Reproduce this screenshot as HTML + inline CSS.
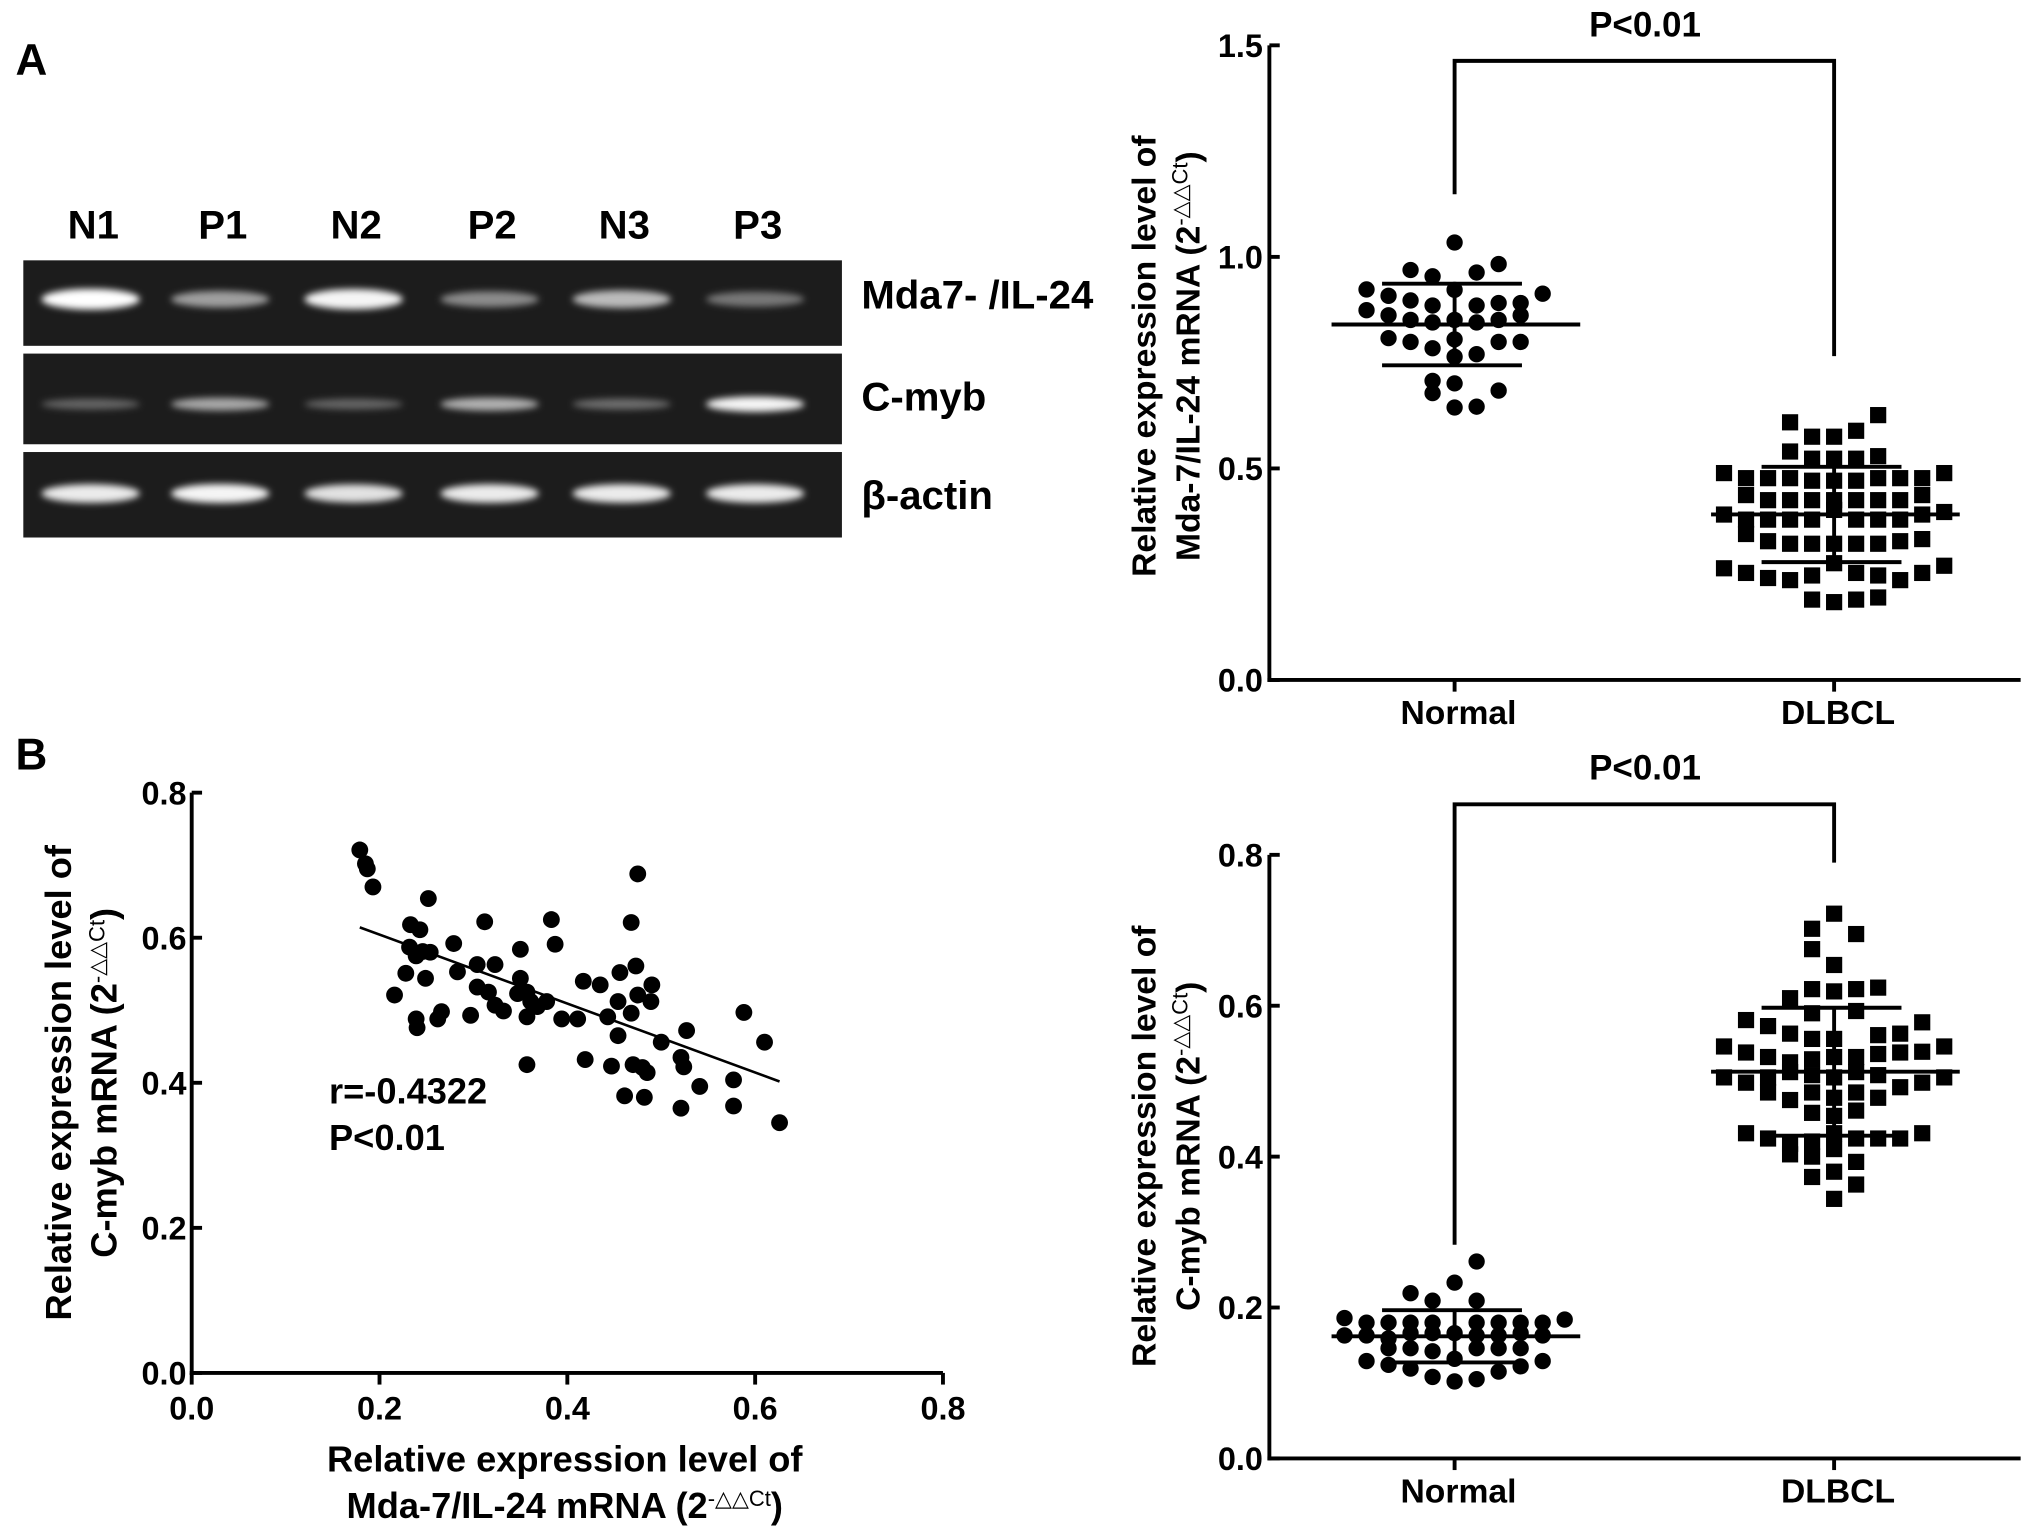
<!DOCTYPE html>
<html><head><meta charset="utf-8"><style>
html,body{margin:0;padding:0;background:#fff;}
svg{display:block;font-family:"Liberation Sans",Arial,sans-serif;font-weight:bold;}
</style></head><body>
<svg id="fig" width="2031" height="1540" viewBox="0 0 1568 1189" preserveAspectRatio="none" xmlns="http://www.w3.org/2000/svg">
<defs><filter id="blur" x="-30%" y="-100%" width="160%" height="300%"><feGaussianBlur stdDeviation="2.6"/></filter></defs>
<g id="root"></g>
</svg>
<script>
// ---------- DATA ----------
const laneLabels = ['N1','P1','N2','P2','N3','P3'];
const mdaBands = [1.0, 0.5, 0.95, 0.4, 0.65, 0.3];
const cmybBands = [0.2, 0.55, 0.2, 0.6, 0.25, 0.95];
const actinBands = [0.9, 0.95, 0.85, 0.9, 0.9, 0.9];
const gelRowLabels = ['Mda7- /IL-24','C-myb','β-actin'];

const groupNames = ['Normal','DLBCL'];
const mdaTicks = [0.0, 0.5, 1.0, 1.5];
const mdaTickLabels = ['0.0','0.5','1.0','1.5'];
const mdaNormal = [1.034,0.969,0.954,0.963,0.983,0.923,0.908,0.897,0.885,0.922,0.885,0.891,0.891,0.913,0.874,0.862,0.851,0.845,0.851,0.845,0.851,0.862,0.808,0.799,0.784,0.805,0.770,0.799,0.799,0.764,0.707,0.701,0.678,0.684,0.644,0.646];
const mdaNormalCols = [0,-2,-1,1,2,-4,-3,-2,-1,0,1,2,3,4,-4,-3,-2,-1,0,1,2,3,-3,-2,-1,0,1,2,3,0,-1,0,-1,2,0,1];
const mdaDlbcl = [0.609,0.575,0.575,0.589,0.626,0.540,0.523,0.523,0.523,0.529,0.489,0.477,0.477,0.477,0.471,0.471,0.471,0.477,0.477,0.477,0.489,0.437,0.425,0.425,0.425,0.425,0.425,0.425,0.425,0.437,0.391,0.379,0.379,0.379,0.379,0.402,0.379,0.379,0.379,0.391,0.397,0.345,0.328,0.322,0.322,0.322,0.322,0.322,0.328,0.333,0.264,0.253,0.241,0.236,0.247,0.276,0.253,0.247,0.236,0.253,0.270,0.190,0.184,0.190,0.195];
const mdaDlbclCols = [-2,-1,0,1,2,-2,-1,0,1,2,-5,-4,-3,-2,-1,0,1,2,3,4,5,-4,-3,-2,-1,0,1,2,3,4,-5,-4,-3,-2,-1,0,1,2,3,4,5,-4,-3,-2,-1,0,1,2,3,4,-5,-4,-3,-2,-1,0,1,2,3,4,5,-1,0,1,2];

const scatterX = [.179,.185,.187,.193,.252,.233,.243,.312,.383,.387,.279,.232,.239,.246,.254,.228,.216,.239,.240,.249,.262,.266,.283,.297,.304,.304,.316,.323,.323,.332,.350,.350,.347,.357,.361,.357,.357,.368,.378,.394,.411,.417,.419,.435,.443,.447,.454,.454,.456,.461,.468,.468,.470,.473,.475,.475,.480,.482,.485,.489,.490,.500,.521,.524,.527,.521,.541,.577,.577,.588,.610,.626];
const scatterY = [.721,.702,.695,.670,.654,.618,.611,.622,.625,.591,.592,.587,.575,.581,.580,.551,.521,.488,.476,.544,.488,.498,.553,.493,.563,.532,.525,.563,.507,.499,.584,.544,.523,.525,.512,.491,.425,.505,.512,.488,.488,.540,.432,.535,.491,.423,.512,.465,.552,.382,.621,.496,.425,.561,.521,.688,.421,.380,.414,.512,.535,.456,.435,.422,.472,.365,.395,.404,.368,.497,.456,.345];
const scatterTicks = [0.0,0.2,0.4,0.6,0.8];
const scatterTickLabels = ['0.0','0.2','0.4','0.6','0.8'];
const statText = ['r=-0.4322','P<0.01'];

const cmybTicks = [0.0,0.2,0.4,0.6,0.8];
const cmybTickLabels = ['0.0','0.2','0.4','0.6','0.8'];
const cmybNormal = [.261,.233,.219,.209,.209,.186,.180,.180,.180,.180,.180,.180,.180,.180,.184,.163,.163,.159,.166,.166,.166,.163,.163,.166,.163,.146,.146,.142,.146,.146,.146,.129,.124,.119,.132,.115,.122,.129,.108,.102,.105];
const cmybNormalCols = [1,0,-2,-1,1,-5,-4,-3,-2,-1,1,2,3,4,5,-5,-4,-3,-2,-1,0,1,2,3,4,-3,-2,-1,1,2,3,-4,-3,-2,0,2,3,4,-1,0,1];
const cmybDlbcl = [.722,.702,.695,.675,.654,.622,.619,.622,.624,.610,.590,.593,.581,.573,.578,.563,.556,.556,.561,.563,.546,.538,.532,.525,.529,.532,.532,.536,.538,.539,.546,.505,.498,.505,.512,.508,.505,.512,.508,.492,.498,.505,.485,.475,.485,.478,.485,.478,.458,.454,.461,.431,.424,.417,.420,.431,.424,.424,.424,.431,.403,.400,.410,.393,.373,.380,.363,.344];
const cmybDlbclCols = [0,-1,1,-1,0,-1,0,1,2,-2,-1,1,-4,-3,4,-2,-1,0,2,3,-5,-4,-3,-2,-1,0,1,2,3,4,5,-5,-4,-3,-2,-1,0,1,2,3,4,5,-3,-2,-1,0,1,2,-1,0,1,-4,-3,-2,-1,0,1,2,3,4,-2,-1,0,1,-1,0,1,0];

// ---------- DRAWING ----------
const NS='http://www.w3.org/2000/svg';
const root=document.getElementById('root');
function mk(tag,attrs,parent){const e=document.createElementNS(NS,tag);for(const k in attrs)e.setAttribute(k,attrs[k]);(parent||root).appendChild(e);return e;}
function txt(s,attrs,parent){const e=mk('text',attrs,parent);e.textContent=s;return e;}
function mean(a){return a.reduce((s,v)=>s+v,0)/a.length;}
function sd(a){const m=mean(a);return Math.sqrt(a.reduce((s,v)=>s+(v-m)*(v-m),0)/(a.length-1));}
function titleWithSup(parent,main,attrs){
  const t=mk('text',attrs,parent);
  const a=document.createElementNS(NS,'tspan');a.textContent=main+' (2';t.appendChild(a);
  const b=document.createElementNS(NS,'tspan');b.setAttribute('baseline-shift','super');b.setAttribute('font-size','17');b.setAttribute('font-weight','normal');b.textContent='-△△Ct';t.appendChild(b);
  const c=document.createElementNS(NS,'tspan');c.textContent=')';t.appendChild(c);
  return t;
}

let e;
e=txt('A',{x:12,y:58,'font-size':34});

e=txt('B',{x:12,y:594,'font-size':34});


// ----- Gel -----
const gel=mk('g',{});

const laneX=[72,172,275,380,482,585];
laneLabels.forEach((l,i)=>{const t=txt(l,{x:laneX[i],y:184,'font-size':31,'text-anchor':'middle'},gel);
  });
const gelRows=[{y0:201,y1:267,band:231,vals:mdaBands,bh:8},{y0:273,y1:343,band:312,vals:cmybBands,bh:6},{y0:349,y1:415,band:381,vals:actinBands,bh:7.5}];
const gelLabelY=[238,317,393];
gelRows.forEach((r,ri)=>{
  const bg=mk('rect',{x:18,y:r.y0,width:632,height:r.y1-r.y0,fill:'#1c1c1c'},gel);
  
  r.vals.forEach((v,i)=>{
    const b=mk('ellipse',{cx:laneX[i]-2,cy:r.band,rx:38,ry:r.bh*(0.6+0.4*v),fill:'#fff','fill-opacity':0.15+0.85*v,filter:'url(#blur)'},gel);
    
  });
  const t=txt(gelRowLabels[ri],{x:665,y:gelLabelY[ri],'font-size':31},gel);
  
});

function dotPlot(cfg){
  const g=mk('g',{});
  
  const X0=980,X1=1560,Y0=cfg.y0,Y1=cfg.y1;
  const ymap=v=>Y0-(v-cfg.min)/(cfg.max-cfg.min)*(Y0-Y1);
  const cx=[1123,1416];
  const yAx=mk('line',{x1:X0,y1:Y0+1.5,x2:X0,y2:Y1,stroke:'#000','stroke-width':3},g);
  
  const xAx=mk('line',{x1:X0-1.5,y1:Y0,x2:X1,y2:Y0,stroke:'#000','stroke-width':3},g);
  
  cfg.ticks.forEach((v,i)=>{
    const y=ymap(v);
    mk('line',{x1:X0,y1:y,x2:X0+8,y2:y,stroke:'#000','stroke-width':3},g);
    const t=txt(cfg.tickLabels[i],{x:X0-5,y:y+9,'font-size':25,'text-anchor':'end'},g);
    
  });
  groupNames.forEach((n,i)=>{
    mk('line',{x1:cx[i],y1:Y0,x2:cx[i],y2:Y0+9,stroke:'#000','stroke-width':3},g);
    const t=txt(n,{x:cx[i]+3,y:Y0+34,'font-size':26,'text-anchor':'middle'},g);
    
  });
  const tg=mk('g',{transform:'rotate(-90)'},g);
  
  txt('Relative expression level of',{x:-cfg.titleY,y:892,'font-size':26,'text-anchor':'middle'},tg);
  titleWithSup(tg,cfg.title2,{x:-cfg.titleY,y:926,'font-size':26,'text-anchor':'middle'});
  const step=17;
  cfg.normal.forEach((v,i)=>{
    const c=mk('circle',{cx:cx[0]+cfg.normalCols[i]*step,cy:ymap(v),r:6.3,fill:'#000'},g);
    
  });
  cfg.dlbcl.forEach((v,i)=>{
    const s=12.5;
    const r=mk('rect',{x:cx[1]+cfg.dlbclCols[i]*step-s/2,y:ymap(v)-s/2,width:s,height:s,fill:'#000'},g);
    
  });
  [[cfg.normal,0],[cfg.dlbcl,1]].forEach(([arr,i])=>{
    const m=mean(arr),s=sd(arr);
    const ml=mk('line',{x1:cx[i]-95,y1:ymap(m),x2:cx[i]+97,y2:ymap(m),stroke:'#000','stroke-width':3},g);
    
    mk('line',{x1:cx[i],y1:ymap(m+s),x2:cx[i],y2:ymap(m-s),stroke:'#000','stroke-width':3},g);
    [m+s,m-s].forEach(v=>{const l=mk('line',{x1:cx[i]-56,y1:ymap(v),x2:cx[i]+52,y2:ymap(v),stroke:'#000','stroke-width':3},g);
      });
  });
  const br=mk('polyline',{points:`${cx[0]},${cfg.bL} ${cx[0]},${cfg.bY} ${cx[1]},${cfg.bY} ${cx[1]},${cfg.bR}`,fill:'none',stroke:'#000','stroke-width':3},g);
  
  const p=txt('P<0.01',{x:1270,y:cfg.bY-19,'font-size':27,'text-anchor':'middle'},g);
  
}
dotPlot({name:'mda7-dot-plot',y0:525,y1:35,min:0,max:1.5,ticks:mdaTicks,tickLabels:mdaTickLabels,
  normal:mdaNormal,normalCols:mdaNormalCols,dlbcl:mdaDlbcl,dlbclCols:mdaDlbclCols,
  title2:'Mda-7/IL-24 mRNA',titleY:275,bY:47,bL:150,bR:275});
dotPlot({name:'cmyb-dot-plot',y0:1126,y1:660,min:0,max:0.8,ticks:cmybTicks,tickLabels:cmybTickLabels,
  normal:cmybNormal,normalCols:cmybNormalCols,dlbcl:cmybDlbcl,dlbclCols:cmybDlbclCols,
  title2:'C-myb mRNA',titleY:885,bY:621,bL:961,bR:666});

(function(){
  const g=mk('g',{});
  
  const X0=148,X1=728,Y0=1060,Y1=612;
  const xm=v=>X0+v/0.8*(X1-X0), ym=v=>Y0-v/0.8*(Y0-Y1);
  const ya=mk('line',{x1:X0,y1:Y0+1.5,x2:X0,y2:Y1,stroke:'#000','stroke-width':3},g);
  
  const xa=mk('line',{x1:X0-1.5,y1:Y0,x2:X1,y2:Y0,stroke:'#000','stroke-width':3},g);
  
  scatterTicks.forEach((v,i)=>{
    mk('line',{x1:X0,y1:ym(v),x2:X0+8,y2:ym(v),stroke:'#000','stroke-width':3},g);
    let t=txt(scatterTickLabels[i],{x:X0-4,y:ym(v)+9,'font-size':25,'text-anchor':'end'},g);
    
    mk('line',{x1:xm(v),y1:Y0,x2:xm(v),y2:Y0+9,stroke:'#000','stroke-width':3},g);
    t=txt(scatterTickLabels[i],{x:xm(v),y:Y0+36,'font-size':25,'text-anchor':'middle'},g);
    
  });
  scatterX.forEach((x,i)=>{
    const c=mk('circle',{cx:xm(x),cy:ym(scatterY[i]),r:6.5,fill:'#000'},g);
    
  });
  const mx=mean(scatterX),my=mean(scatterY);
  let sxy=0,sxx=0;scatterX.forEach((x,i)=>{sxy+=(x-mx)*(scatterY[i]-my);sxx+=(x-mx)*(x-mx);});
  const b=sxy/sxx,a=my-b*mx;
  const xmin=Math.min(...scatterX),xmax=Math.max(...scatterX);
  const fl=mk('line',{x1:xm(xmin),y1:ym(a+b*xmin),x2:xm(xmax),y2:ym(a+b*xmax),stroke:'#000','stroke-width':2},g);
  
  let t=txt(statText[0],{x:254,y:852,'font-size':28},g);
  
  t=txt(statText[1],{x:254,y:888,'font-size':28},g);
  
  const xt=mk('g',{},g);
  
  txt('Relative expression level of',{x:436,y:1136,'font-size':28,'text-anchor':'middle'},xt);
  titleWithSup(xt,'Mda-7/IL-24 mRNA',{x:436,y:1172,'font-size':28,'text-anchor':'middle'});
  const yt=mk('g',{transform:'rotate(-90)'},g);
  
  txt('Relative expression level of',{x:-836,y:55,'font-size':28,'text-anchor':'middle'},yt);
  titleWithSup(yt,'C-myb mRNA',{x:-836,y:90,'font-size':28,'text-anchor':'middle'});
})();
</script>
</body></html>
